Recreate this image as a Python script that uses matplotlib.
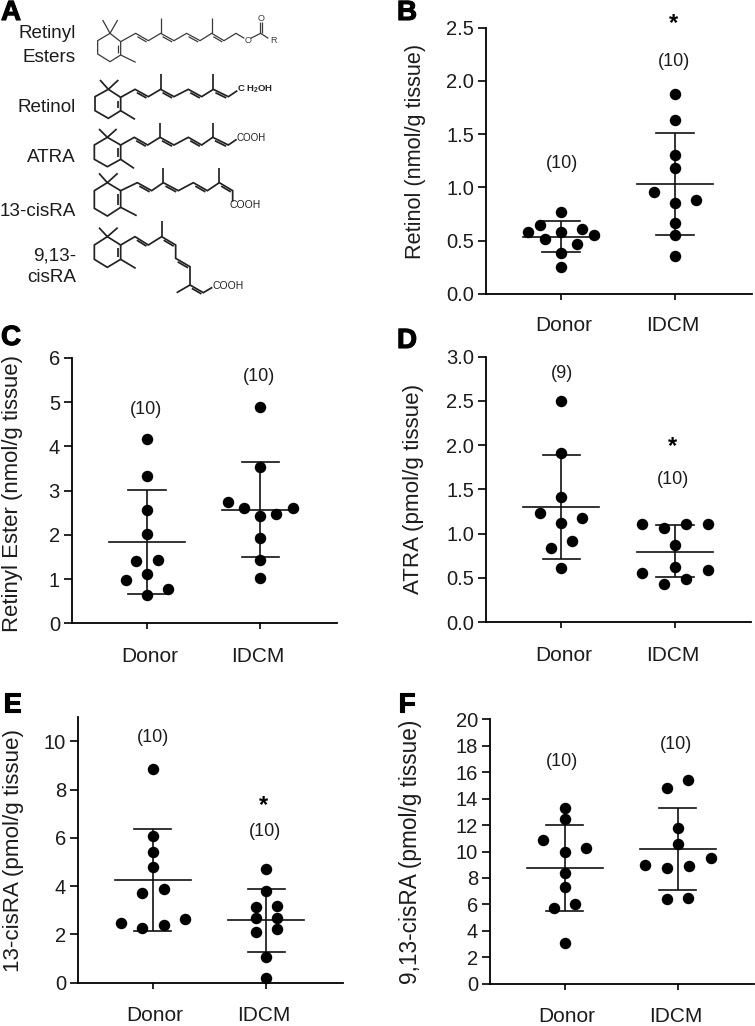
import matplotlib
matplotlib.use("Agg")
import matplotlib.pyplot as plt
import matplotlib.patheffects as pe
from matplotlib.transforms import ScaledTranslation

W, H = 755, 1026
plt.rcParams['font.family'] = ['Liberation Sans', 'DejaVu Sans']
plt.rcParams['mathtext.fontset'] = 'custom'
plt.rcParams['mathtext.rm'] = 'Liberation Sans:bold'

TEXT = '#1c1c1c'
groups = ['Donor', 'IDCM']

# values, sideways offset of each dot (0 = on the group centre), mean, upper and lower bar
retinol_donor = [0.77, 0.648, 0.582, 0.607, 0.579, 0.551, 0.516, 0.466, 0.385, 0.25]
retinol_donor_off = [0, -0.187, -0.287, 0.187, 0, 0.287, -0.143, 0.143, 0, 0]
retinol_donor_bar = [0.535, 0.682, 0.391]
retinol_idcm = [1.877, 1.636, 1.305, 1.186, 0.957, 0.857, 0.879, 0.666, 0.551, 0.357]
retinol_idcm_off = [0, 0, 0, 0, -0.187, 0, 0.187, 0, 0, 0]
retinol_idcm_bar = [1.033, 1.508, 0.551]

ester_donor = [4.168, 3.34, 2.555, 2.02, 1.417, 1.432, 1.108, 0.972, 0.769, 0.633]
ester_donor_off = [0, 0, 0, 0, -0.094, 0.094, 0, -0.188, 0.188, 0]
ester_donor_bar = [1.84, 3.015, 0.671]
ester_idcm = [4.89, 3.54, 2.744, 2.608, 2.615, 2.427, 2.465, 1.937, 1.432, 1.018]
ester_idcm_off = [0, 0, -0.285, -0.144, 0.285, 0, 0.141, 0, 0, 0]
ester_idcm_bar = [2.571, 3.648, 1.492]

atra_donor = [2.495, 1.915, 1.413, 1.229, 1.176, 1.119, 0.92, 0.84, 0.61]
atra_donor_off = [0, 0, 0, -0.185, 0.185, 0, 0.094, -0.091, 0]
atra_donor_bar = [1.30, 1.885, 0.716]
atra_idcm = [1.108, 1.059, 1.112, 1.108, 0.874, 0.618, 0.558, 0.588, 0.49, 0.426]
atra_idcm_off = [-0.287, -0.097, 0.097, 0.29, 0, 0, -0.287, 0.29, 0.097, -0.097]
atra_idcm_bar = [0.795, 1.097, 0.509]

cis13_donor = [8.877, 6.089, 5.437, 4.785, 3.703, 3.883, 2.455, 2.621, 2.275, 2.386]
cis13_donor_off = [0, 0, 0, 0, -0.091, 0.097, -0.282, 0.287, -0.091, 0.097]
cis13_donor_bar = [4.258, 6.366, 2.15]
cis13_idcm = [4.73, 3.80, 3.148, 3.176, 2.69, 2.69, 2.122, 2.22, 1.054, 0.194]
cis13_idcm_off = [0, 0, -0.094, 0.094, -0.094, 0.094, -0.094, 0.094, 0, 0]
cis13_idcm_bar = [2.58, 3.883, 1.29]

cis913_donor = [13.27, 12.43, 10.87, 10.29, 9.94, 8.37, 7.31, 6.0, 5.75, 3.05]
cis913_donor_off = [0, 0, -0.189, 0.186, 0, 0, 0, 0.091, -0.094, 0]
cis913_donor_bar = [8.73, 11.98, 5.52]
cis913_idcm = [15.38, 14.83, 11.75, 10.59, 9.53, 8.98, 8.73, 8.93, 6.38, 6.51]
cis913_idcm_off = [0.094, -0.091, 0, 0, 0.292, -0.286, -0.094, 0.1, -0.091, 0.094]
cis913_idcm_bar = [10.19, 13.27, 7.11]


def px_axes(fig, left, right, top, bottom):
    return fig.add_axes([left / W, 1 - bottom / H, (right - left) / W, (bottom - top) / H])


def scatter_panel(fig, box, centres, ylim, yticks, ylabel, label_xy, donor, idcm,
                  counts, star=None, pad=12, fmt='%g', label_size=16.1):
    left, right, top, bottom = box
    unit = centres[1] - centres[0]
    ax = px_axes(fig, left, right, top, bottom)
    for i, (vals, off, bar) in enumerate((donor, idcm)):
        ax.scatter([i + o for o in off], vals, s=68, color='black', linewidths=0,
                   zorder=3, clip_on=False)
        ax.plot([i - 0.335, i + 0.335], [bar[0], bar[0]], color='#111111', lw=1.2, zorder=2)
        ax.errorbar(i, bar[0], yerr=[[bar[0] - bar[2]], [bar[1] - bar[0]]], color='#111111',
                    elinewidth=1.2, capsize=0, zorder=2)
        ax.plot([i - 0.165, i + 0.165], [bar[1], bar[1]], color='#111111', lw=1.2, zorder=2)
        ax.plot([i - 0.165, i + 0.165], [bar[2], bar[2]], color='#111111', lw=1.2, zorder=2)
    ax.set_xlim((left - centres[0]) / unit, (right - centres[0]) / unit)
    ax.set_ylim(*ylim)
    ax.set_xticks([0, 1], groups)
    ax.set_yticks(yticks, [fmt % t for t in yticks])
    ax.tick_params(axis='y', length=6, width=1.2, labelsize=14.5, pad=2.5, labelcolor=TEXT)
    ax.tick_params(axis='x', length=4.5, width=1.2, labelsize=15, pad=pad, labelcolor=TEXT)
    # the group names sit a little towards each other
    for lab, dx in zip(ax.get_xticklabels(), (2.5, -2)):
        lab.set_transform(lab.get_transform() + ScaledTranslation(dx / 100, 0, fig.dpi_scale_trans))
    for side in ('top', 'right'):
        ax.spines[side].set_visible(False)
    for side in ('left', 'bottom'):
        ax.spines[side].set_linewidth(1.3)
    ax.set_ylabel(ylabel, fontsize=label_size, color=TEXT, va='center')
    ax.yaxis.set_label_coords(label_xy[0] / W, 1 - label_xy[1] / H, transform=fig.transFigure)
    for x, y, s in counts:
        ax.text(x, y, s, ha='center', va='center', fontsize=13, color=TEXT)
    if star:
        ax.text(star[0], star[1], '*', ha='center', va='center', fontsize=17,
                fontweight='bold', color='black')
    return ax


fig = plt.figure(figsize=(W / 100, H / 100), dpi=100)

scatter_panel(fig, (485.7, 751.7, 27.7, 294), (561, 675), (0, 2.5), [0, 0.5, 1, 1.5, 2, 2.5],
              'Retinol (nmol/g tissue)', (415, 151),
              (retinol_donor, retinol_donor_off, retinol_donor_bar),
              (retinol_idcm, retinol_idcm_off, retinol_idcm_bar),
              [(0.006, 1.227, '(10)'), (0.99, 2.187, '(10)')], star=(0.99, 2.54), pad=11, fmt='%.1f',
              label_size=15.6)

scatter_panel(fig, (71.7, 336.7, 358, 623.3), (147, 260.3), (0, 6), [0, 1, 2, 3, 4, 5, 6],
              'Retinyl Ester (nmol/g tissue)', (13, 493),
              (ester_donor, ester_donor_off, ester_donor_bar),
              (ester_idcm, ester_idcm_off, ester_idcm_bar),
              [(-0.01, 4.84, '(10)'), (0.99, 5.59, '(10)')], pad=12.5, label_size=15.9)

scatter_panel(fig, (486, 751, 356.7, 622), (561.3, 675), (0, 3), [0, 0.5, 1, 1.5, 2, 2.5, 3],
              'ATRA (pmol/g tissue)', (413, 489),
              (atra_donor, atra_donor_off, atra_donor_bar),
              (atra_idcm, atra_idcm_off, atra_idcm_bar),
              [(0.003, 2.81, '(9)'), (0.98, 1.606, '(10)')], star=(0.98, 1.98), pad=13, fmt='%.1f')

scatter_panel(fig, (77.7, 342.7, 717.3, 982.7), (152.7, 266.3), (0, 11), [0, 2, 4, 6, 8, 10],
              '13-cisRA (pmol/g tissue)', (14, 851),
              (cis13_donor, cis13_donor_off, cis13_donor_bar),
              (cis13_idcm, cis13_idcm_off, cis13_idcm_bar),
              [(0, 10.17, '(10)'), (0.985, 6.255, '(10)')], star=(0.977, 7.35), pad=12)

scatter_panel(fig, (490, 754.3, 719.3, 983.7), (564.7, 677.7), (0, 20), list(range(0, 21, 2)),
              '9,13-cisRA (pmol/g tissue)', (410, 852),
              (cis913_donor, cis913_donor_off, cis913_donor_bar),
              (cis913_idcm, cis913_idcm_off, cis913_idcm_bar),
              [(-0.027, 16.8, '(10)'), (-0.018 + 1, 18.06, '(10)')], pad=12.5, label_size=16.3)

# panel A and the letters sit on one overlay in image pixels
over = fig.add_axes([0, 0, 1, 1])
over.set_xlim(0, W)
over.set_ylim(H, 0)
over.axis('off')
over.patch.set_alpha(0)

for letter, x, y in [('A', 1, 20), ('B', 397, 20), ('C', 1, 345), ('D', 397, 348), ('E', 3, 712), ('F', 398, 712)]:
    t = over.text(x, y, letter, fontsize=20, fontweight='bold', color='black', ha='left', va='baseline')
    t.set_path_effects([pe.withStroke(linewidth=0.8, foreground='black')])

for name, y in [('Retinyl', 34), ('Esters', 57), ('Retinol', 107), ('ATRA', 157),
                ('13-cisRA', 211), ('9,13-', 256), ('cisRA', 278)]:
    over.text(76, y, name, fontsize=13.6, color=TEXT, ha='right', va='center')


def bonds(points, lw, color):
    over.plot([p[0] / 3 for p in points], [p[1] / 3 for p in points], color=color, lw=lw,
              solid_joinstyle='miter', solid_capstyle='butt')


def double(a, b, lw, color, off=7):
    # second stroke of a double bond, just below and shortened
    dx, dy = b[0] - a[0], b[1] - a[1]
    s = 0.14
    bonds([(a[0] + dx * s, a[1] + dy * s + off), (b[0] - dx * s, b[1] - dy * s + off)], lw, color)


def retinoid(ring, gem, methyl, chain, side, dbl, lw=1.25, color='#222222'):
    bonds(ring + [ring[0]], lw, color)
    bonds(chain, lw, color)
    for m in gem + methyl + side:
        bonds(m, lw, color)
    for i in dbl:
        double(chain[i], chain[i + 1], lw, color)
    a, b = ring[0], ring[-1]
    bonds([(a[0] - 9, a[1] + 10), (b[0] - 9, b[1] - 7)], lw, color)


c = (330, 100)
retinoid([(362, 125), c, (293, 122), (293, 162), (330, 185), (362, 165)],
         [[c, (308, 60)], [c, (353, 60)]], [[(362, 165), (407, 187)]],
         [(362, 125), (407, 100), (445, 122), (482, 100), (522, 122), (560, 100), (600, 122),
          (635, 100), (672, 122), (708, 100), (733, 115)],
         [[(482, 100), (482, 55)], [(635, 100), (635, 55)], [(752, 115), (782, 100), (805, 115)],
          [(779, 100), (779, 65)], [(785, 100), (785, 65)]],
         [1, 3, 5, 7], lw=0.9, color='#3a3a3a')
over.text(743 / 3, 122 / 3, 'O', fontsize=6.5, ha='center', va='center', color='#3a3a3a')
over.text(782 / 3, 55 / 3, 'O', fontsize=6.5, ha='center', va='center', color='#3a3a3a')
over.text(820 / 3, 122 / 3, 'R', fontsize=6.5, ha='center', va='center', color='#3a3a3a')

c = (325, 268)
retinoid([(362, 292), c, (285, 290), (285, 332), (325, 355), (362, 332)],
         [[c, (300, 240)], [c, (355, 240)]], [[(362, 332), (405, 358)]],
         [(362, 292), (405, 268), (445, 290), (482, 268), (522, 290), (565, 268), (605, 290),
          (640, 268), (685, 290), (712, 272)],
         [[(482, 268), (482, 222)], [(640, 268), (640, 222)]], [1, 3, 5, 7])
over.text(711 / 3, 267 / 3, r'C H$_{2}$OH', fontsize=6.8, fontweight='bold', ha='left', va='center', color='#222222')

c = (322, 412)
retinoid([(362, 435), c, (283, 435), (283, 478), (322, 500), (362, 478)],
         [[c, (297, 387)], [c, (350, 387)]], [[(362, 478), (402, 505)]],
         [(362, 435), (403, 412), (443, 435), (480, 412), (522, 435), (565, 412), (605, 435),
          (638, 412), (685, 435), (710, 418)],
         [[(480, 412), (480, 368)], [(638, 412), (638, 368)]], [1, 3, 5, 7])
over.text(709 / 3, 413 / 3, 'COOH', fontsize=7, ha='left', va='center', color='#222222')

c = (322, 548)
retinoid([(362, 572), c, (283, 572), (283, 625), (322, 648), (362, 622)],
         [[c, (297, 520)], [c, (353, 520)]], [[(362, 622), (410, 647)]],
         [(362, 572), (412, 548), (455, 572), (490, 548), (535, 572), (580, 548), (622, 572),
          (658, 548), (698, 572), (698, 605)],
         [[(490, 548), (490, 503)], [(658, 548), (658, 503)]], [1, 3, 5, 7])
over.text(687 / 3, 615 / 3, 'COOH', fontsize=7.5, ha='left', va='center', color='#222222')

c = (322, 710)
retinoid([(362, 735), c, (283, 735), (283, 778), (322, 802), (362, 778)],
         [[c, (297, 683)], [c, (353, 683)]], [[(362, 778), (407, 805)]],
         [(362, 735), (405, 710), (445, 735), (485, 710), (527, 735), (527, 775), (570, 800),
          (570, 855), (610, 878), (637, 862)],
         [[(485, 710), (485, 663)], [(570, 855), (530, 878)]], [1, 3, 5, 7])
over.text(637 / 3, 858 / 3, 'COOH', fontsize=7.5, ha='left', va='center', color='#222222')

fig.savefig('out.png', dpi=100)
